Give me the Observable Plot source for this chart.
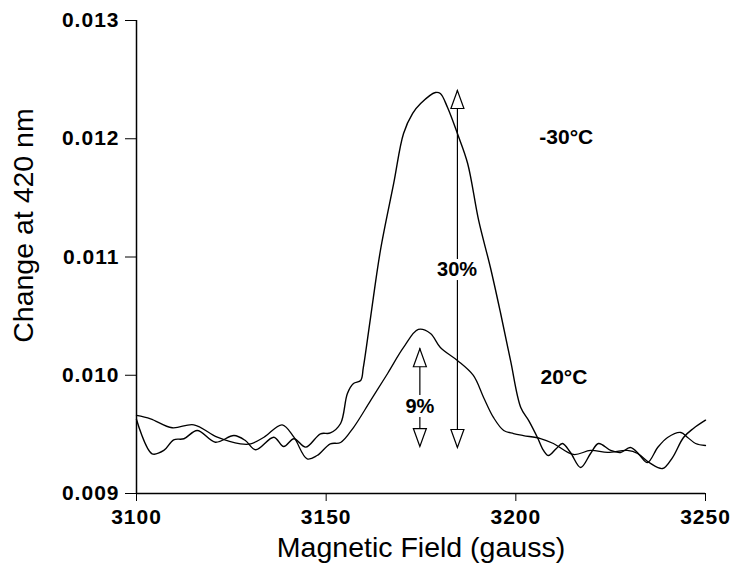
<!DOCTYPE html>
<html>
<head>
<meta charset="utf-8">
<script src="https://cdn.jsdelivr.net/npm/d3@7"></script>
<script src="https://cdn.jsdelivr.net/npm/@observablehq/plot@0.6"></script>
<style>
  body { margin: 0; background: #fff; }
  #chart svg { font-family: "Liberation Sans", Arial, sans-serif; }
  #chart svg g[aria-label="x-axis tick label"],
  #chart svg g[aria-label="y-axis tick label"] {
    font-size: 21px; font-weight: bold; letter-spacing: 1px; fill: #000;
  }
  #chart svg g[aria-label="x-axis tick label"] text,
  #chart svg g[aria-label="y-axis tick label"] text {
    font-size: 21px; font-weight: bold; letter-spacing: 1px;
  }
</style>
</head>
<body>
<div id="chart"></div>
<script>
// ---- data ----
const xTicks = [3100, 3150, 3200, 3250];
const yTicks = [0.009, 0.010, 0.011, 0.012, 0.013];

// -30 °C trace: [field (gauss), change at 420 nm]
const minus30 = [
  [3100.0,0.009626],[3104.1,0.009336],[3107.2,0.009364],[3109.8,0.009454],[3112.5,0.009463],
  [3116.0,0.009533],[3120.8,0.009434],[3125.7,0.009490],[3128.7,0.009448],[3131.4,0.009370],
  [3136.2,0.009476],[3138.8,0.009397],[3141.5,0.009463],[3144.6,0.009392],[3148.5,0.009505],
  [3151.1,0.009512],[3153.8,0.009592],[3155.6,0.009846],[3157.2,0.009930],[3159.1,0.009956],
  [3159.8,0.010066],[3161.7,0.010488],[3164.3,0.011055],[3167.8,0.011622],[3170.4,0.012044],
  [3172.8,0.012214],[3174.9,0.012298],[3178.8,0.012391],[3180.1,0.012383],[3182.0,0.012264],
  [3184.6,0.012044],[3187.3,0.011791],[3190.2,0.011309],[3193.3,0.010911],[3196.0,0.010522],
  [3198.6,0.010125],[3201.3,0.009727],[3203.4,0.009617],[3205.7,0.009474],[3207.3,0.009364],
  [3208.6,0.009321],[3210.7,0.009381],[3212.3,0.009423],[3214.4,0.009347],[3217.1,0.009220],
  [3219.7,0.009338],[3221.8,0.009423],[3225.0,0.009364],[3227.6,0.009347],[3230.2,0.009389],
  [3232.9,0.009321],[3235.5,0.009254],[3238.7,0.009211],[3241.3,0.009304],[3244.2,0.009474],
  [3246.8,0.009550],[3250.0,0.009620]
];

// 20 °C trace
const plus20 = [
  [3100.0,0.009660],[3103.7,0.009632],[3109.4,0.009556],[3115.1,0.009581],[3121.3,0.009476],
  [3127.4,0.009420],[3130.1,0.009420],[3133.6,0.009476],[3138.4,0.009581],[3141.5,0.009476],
  [3145.0,0.009293],[3147.6,0.009321],[3151.1,0.009420],[3153.8,0.009431],[3157.2,0.009558],
  [3161.7,0.009786],[3166.2,0.010015],[3170.4,0.010235],[3174.3,0.010387],[3177.5,0.010353],
  [3180.1,0.010235],[3184.6,0.010125],[3188.8,0.009998],[3191.5,0.009812],[3194.1,0.009643],
  [3196.8,0.009533],[3199.4,0.009507],[3202.0,0.009490],[3206.5,0.009465],[3209.9,0.009423],
  [3215.2,0.009330],[3219.7,0.009364],[3224.2,0.009347],[3229.4,0.009364],[3232.1,0.009338],
  [3234.7,0.009262],[3237.4,0.009389],[3240.0,0.009474],[3243.5,0.009516],[3245.3,0.009474],
  [3247.4,0.009423],[3250.0,0.009406]
];

// annotation texts and their anchor points
const labelText  = ["-30°C", "20°C", "30%", "9%"];
const labelField = [3206.2, 3206.5, 3184.5, 3174.7];
const labelValue = [0.01201, 0.009981, 0.010895, 0.009736];
const labelAlign = ["start", "start", "middle", "middle"];

// axis titles and their anchor points
const xTitle = "Magnetic Field (gauss)";
const yTitle = "Change at 420 nm";
const xTitleAt = [3175, 0.008465];
const yTitleAt = [3072.8, 0.011266];

// arrow shafts: field, from, to (broken where the % label sits)
const shaftField = [3184.6, 3184.6, 3174.7, 3174.7];
const shaftFrom  = [0.012408, 0.010801, 0.010224, 0.009643];
const shaftTo    = [0.010979, 0.009389, 0.009829, 0.009397];

// arrow heads: field, tip value
const headUpField   = [3184.6, 3174.7];
const headUpValue   = [0.012408, 0.010224];
const headDownField = [3184.6, 3174.7];
const headDownValue = [0.009389, 0.009397];

// ---- build tables ----
const rows = (arr, name) => arr.map(([g, v]) => ({g, v, name}));
const labels = labelText.map((t, i) => ({t, g: labelField[i], v: labelValue[i], a: labelAlign[i]}));
const shafts = shaftField.map((g, i) => ({g, v1: shaftFrom[i], v2: shaftTo[i]}));
const headsUp = headUpField.map((g, i) => ({g, v: headUpValue[i]}));
const headsDown = headDownField.map((g, i) => ({g, v: headDownValue[i]}));

const triUp = {draw(ctx) { ctx.moveTo(0, 0); ctx.lineTo(-6.5, 18); ctx.lineTo(6.5, 18); ctx.closePath(); }};
const triDown = {draw(ctx) { ctx.moveTo(0, 0); ctx.lineTo(-6.5, -18); ctx.lineTo(6.5, -18); ctx.closePath(); }};

const textBase = {fontFamily: "Liberation Sans, Arial, sans-serif"};

const chart = Plot.plot({
  width: 733,
  height: 565,
  marginLeft: 136,
  marginRight: 28,
  marginTop: 20,
  marginBottom: 72,
  style: {background: "#fff", color: "#000", fontFamily: "Liberation Sans, Arial, sans-serif"},
  x: {domain: [3100, 3250]},
  y: {domain: [0.009, 0.013]},
  marks: [
    Plot.axisX({ticks: xTicks, tickSize: 8, tickPadding: 8, tickFormat: d => String(d),
      label: null, stroke: "#000", fill: "#000"}),
    Plot.axisY({ticks: yTicks, tickSize: 11, tickPadding: 6, tickFormat: d => d.toFixed(3),
      label: null, stroke: "#000", fill: "#000"}),
    Plot.ruleX([3100], {y1: 0.009, y2: 0.013, strokeWidth: 1.5}),
    Plot.ruleY([0.009], {x1: 3100, x2: 3250, strokeWidth: 1.5}),
    Plot.line(rows(plus20, "20"), {x: "g", y: "v", curve: "catmull-rom", stroke: "#000", strokeWidth: 1.3}),
    Plot.line(rows(minus30, "-30"), {x: "g", y: "v", curve: "catmull-rom", stroke: "#000", strokeWidth: 1.4}),
    Plot.ruleX(shafts, {x: "g", y1: "v1", y2: "v2", stroke: "#000", strokeWidth: 1.2}),
    Plot.dot(headsUp, {x: "g", y: "v", symbol: triUp, r: 5, fill: "#fff", stroke: "#000", strokeWidth: 1.2}),
    Plot.dot(headsDown, {x: "g", y: "v", symbol: triDown, r: 5, fill: "#fff", stroke: "#000", strokeWidth: 1.2}),
    Plot.text(labels, {x: "g", y: "v", text: "t", textAnchor: "start", filter: d => d.a === "start",
      fontSize: 21, fontWeight: "bold", fill: "#000", style: "letter-spacing:1px", ...textBase}),
    Plot.text(labels, {x: "g", y: "v", text: "t", textAnchor: "middle", filter: d => d.a === "middle",
      fontSize: 20, fontWeight: "bold", fill: "#000", ...textBase}),
    Plot.text([xTitle], {x: () => xTitleAt[0], y: () => xTitleAt[1], text: d => d, lineAnchor: "bottom",
      fontSize: 28.5, fill: "#000", ...textBase}),
    Plot.text([yTitle], {x: () => yTitleAt[0], y: () => yTitleAt[1], text: d => d, lineAnchor: "bottom", rotate: -90,
      fontSize: 28.5, fill: "#000", ...textBase})
  ]
});
document.getElementById("chart").appendChild(chart);
</script>
</body>
</html>
